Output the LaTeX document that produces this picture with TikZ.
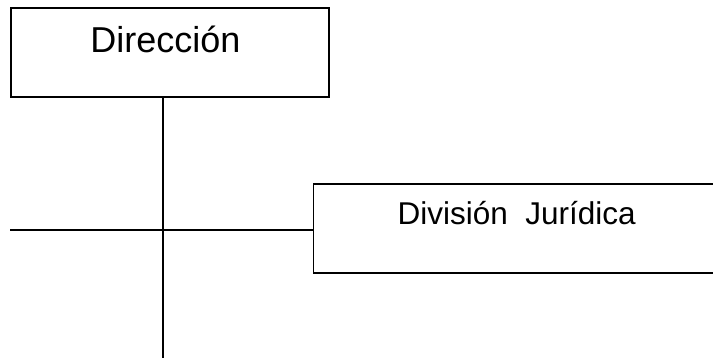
\documentclass[tikz,border=0pt]{standalone}
\usepackage{fontspec}
\setmainfont{Liberation Sans}
\usetikzlibrary{positioning}
\usetikzlibrary{calc}
\tikzstyle{every path}=[line width=1.3pt,line cap=rect,line join=miter]
\tikzstyle{orgbox}=[draw,rectangle,inner sep=0pt,minimum height=89pt]
\begin{document}
\begin{tikzpicture}[x=1pt,y=1pt]
\useasboundingbox (0,0) rectangle (713,-358);

\node[orgbox,minimum width=318pt] (dir) at (170,-52.5) {};
\node[anchor=base] (dirtext) at (165.5,-53) {\fontsize{36}{40}\selectfont Dirección};
\node[orgbox,minimum width=430pt,anchor=west] (div) at (313,-228.5) {};
\node[anchor=base west,inner sep=0pt] (divtext) at (397,-225) {\fontsize{31.5}{36}\selectfont División\ \ Jurídica};

\coordinate (bottom) at (163,-360);
\coordinate (leftend) at (11,-230);
\draw (dir.south -| bottom) -- (bottom);
\draw (leftend) -- (leftend -| div.west);

\end{tikzpicture}
\end{document}
